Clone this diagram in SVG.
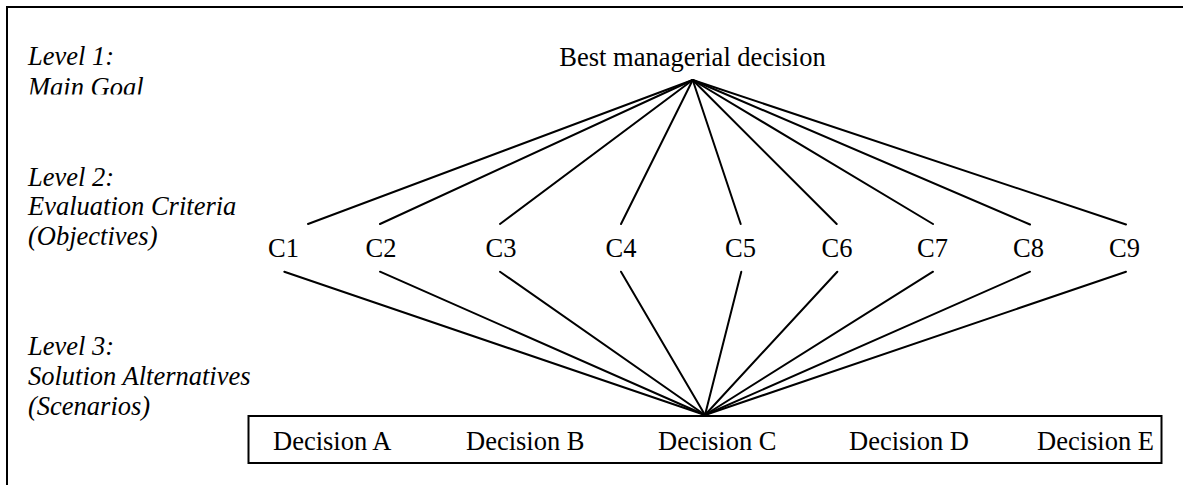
<svg xmlns="http://www.w3.org/2000/svg" width="1183" height="485" viewBox="0 0 1183 485">
<style>
.lv{font-style:italic;font-size:26.5px;fill:#000}
.t{font-size:26.5px;fill:#000}
.m{text-anchor:middle}
.ln{stroke:#000;stroke-width:2;fill:none;stroke-linecap:round}
</style>
<defs>
<clipPath id="clipMain"><rect x="0" y="70" width="300" height="24.5"/></clipPath>
</defs>
<rect width="1183" height="485" fill="#fff"/>
<path d="M7,486 L7,7 L1184,7" fill="none" stroke="#000" stroke-width="2"/>
<g font-family="'Liberation Serif', 'Times New Roman', Times, 'DejaVu Serif', serif">
<g id="level-labels">
<text class="lv" x="28" y="65">Level 1:</text>
<text class="lv" x="28" y="96" clip-path="url(#clipMain)">Main Goal</text>
<text class="lv" x="28" y="186">Level 2:</text>
<text class="lv" x="28" y="215">Evaluation Criteria</text>
<text class="lv" x="28" y="245">(Objectives)</text>
<text class="lv" x="28" y="355">Level 3:</text>
<text class="lv" x="28" y="385">Solution Alternatives</text>
<text class="lv" x="28" y="415">(Scenarios)</text>
</g>
<g id="goal"><text class="t m" x="692.5" y="66">Best managerial decision</text></g>
<g id="C1"><text class="t m" x="283.5" y="257">C1</text></g>
<g id="C2"><text class="t m" x="381" y="257">C2</text></g>
<g id="C3"><text class="t m" x="501" y="257">C3</text></g>
<g id="C4"><text class="t m" x="621" y="257">C4</text></g>
<g id="C5"><text class="t m" x="740.5" y="257">C5</text></g>
<g id="C6"><text class="t m" x="837" y="257">C6</text></g>
<g id="C7"><text class="t m" x="932.5" y="257">C7</text></g>
<g id="C8"><text class="t m" x="1028.5" y="257">C8</text></g>
<g id="C9"><text class="t m" x="1124.5" y="257">C9</text></g>
<g id="decisions">
<rect x="248.5" y="416" width="913" height="47" fill="none" stroke="#000" stroke-width="2"/>
<text class="t" x="273" y="450">Decision A</text>
<text class="t" x="466" y="450">Decision B</text>
<text class="t" x="658" y="450">Decision C</text>
<text class="t" x="849" y="450">Decision D</text>
<text class="t" x="1037" y="450">Decision E</text>
</g>
</g>
<g id="connectors" class="ln">
<line x1="692.7" y1="80" x2="308" y2="224"/>
<line x1="692.7" y1="80" x2="380" y2="224"/>
<line x1="692.7" y1="80" x2="500" y2="224"/>
<line x1="692.7" y1="80" x2="621" y2="224"/>
<line x1="692.7" y1="80" x2="740.7" y2="224"/>
<line x1="692.7" y1="80" x2="836.7" y2="224"/>
<line x1="692.7" y1="80" x2="933" y2="224"/>
<line x1="692.7" y1="80" x2="1030" y2="224.5"/>
<line x1="692.7" y1="80" x2="1126" y2="224.5"/>
<line x1="284.3" y1="271.7" x2="705" y2="415"/>
<line x1="380" y1="271.7" x2="705" y2="415"/>
<line x1="500" y1="271.7" x2="705" y2="415"/>
<line x1="621" y1="271.7" x2="705" y2="415"/>
<line x1="741.3" y1="271.7" x2="705" y2="415"/>
<line x1="837.3" y1="271.7" x2="705" y2="415"/>
<line x1="933" y1="271.7" x2="705" y2="415"/>
<line x1="1030" y1="271.7" x2="705" y2="415"/>
<line x1="1126" y1="271.7" x2="705" y2="415"/>
</g>
</svg>
